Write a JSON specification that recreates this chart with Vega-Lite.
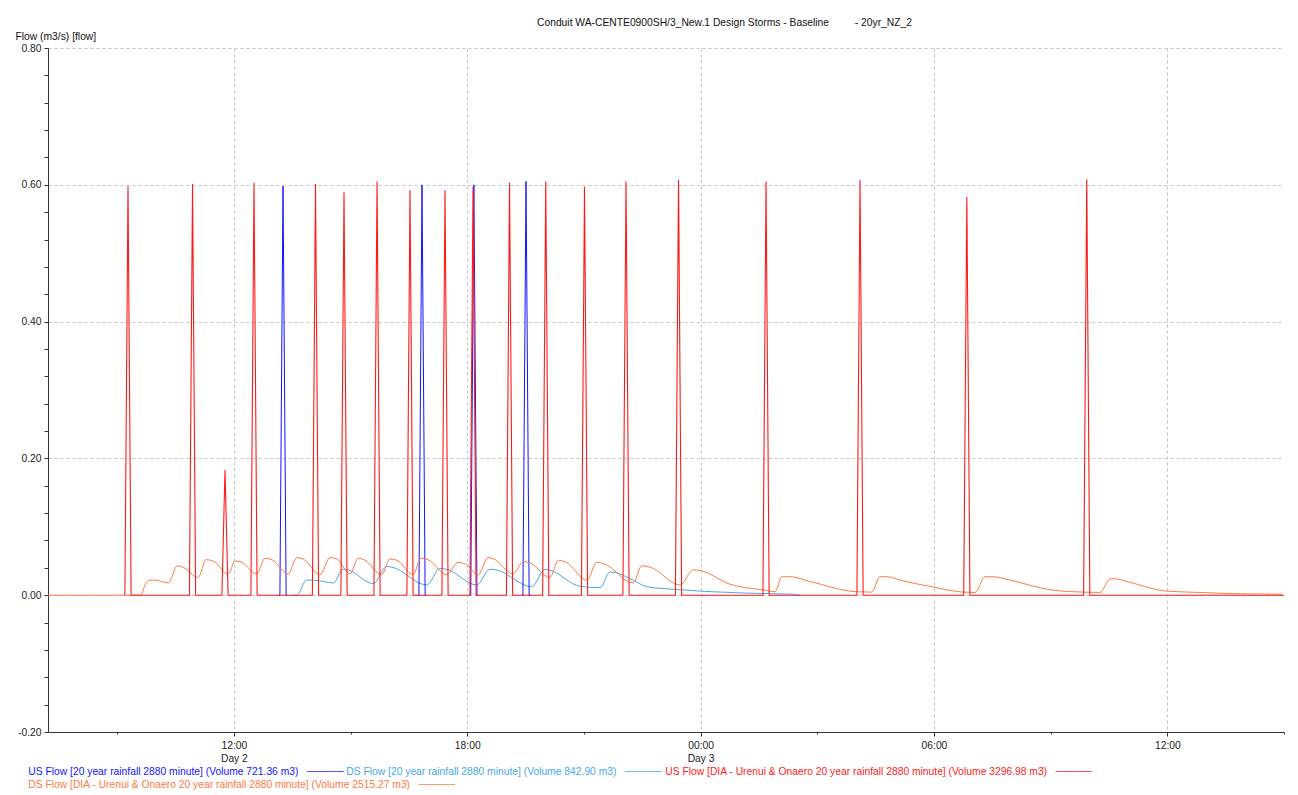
{
  "$schema": "https://vega.github.io/schema/vega-lite/v6.json",
  "autosize": {"type": "none"},
  "padding": {"left": 48, "top": 48, "right": 14, "bottom": 63},
  "width": 1236,
  "height": 684,
  "background": "white",
  "config": {
    "view": {"stroke": null},
    "legend": {
      "title": null, "orient": "none", "direction": "horizontal",
      "symbolSize": 0, "symbolStrokeWidth": 0, "symbolOpacity": 0, "labelOffset": 0,
      "labelFont": "Liberation Sans", "labelFontSize": 10.3, "labelLimit": 2000
    }
  },
  "title": {
    "text": "Conduit WA-CENTE0900SH/3_New.1 Design Storms - Baseline\u00a0\u00a0\u00a0\u00a0\u00a0\u00a0\u00a0\u00a0 - 20yr_NZ_2",
    "anchor": "start", "frame": "group", "dx": 489, "offset": 22, "dy": 27,
    "font": "Liberation Sans", "fontSize": 10.3, "fontWeight": "normal", "color": "#111", "baseline": "alphabetic"
  },
  "data": {"values": [
    {"s":"USDIA","k":0,"t":9.197,"v":0},{"s":"USDIA","k":0,"t":9.277,"v":0.598},{"s":"USDIA","k":0,"t":9.357,"v":0},
    {"s":"USDIA","k":0,"t":10.856,"v":0},{"s":"USDIA","k":0,"t":10.936,"v":0.601},{"s":"USDIA","k":0,"t":11.016,"v":0},
    {"s":"USDIA","k":0,"t":11.691,"v":0},{"s":"USDIA","k":0,"t":11.771,"v":0.183},{"s":"USDIA","k":0,"t":11.851,"v":0},
    {"s":"USDIA","k":0,"t":12.437,"v":0},{"s":"USDIA","k":0,"t":12.517,"v":0.603},{"s":"USDIA","k":0,"t":12.597,"v":0},
    {"s":"USDIA","k":0,"t":14.018,"v":0},{"s":"USDIA","k":0,"t":14.098,"v":0.601},{"s":"USDIA","k":0,"t":14.178,"v":0},
    {"s":"USDIA","k":0,"t":14.751,"v":0},{"s":"USDIA","k":0,"t":14.831,"v":0.589},{"s":"USDIA","k":0,"t":14.911,"v":0},
    {"s":"USDIA","k":0,"t":15.600,"v":0},{"s":"USDIA","k":0,"t":15.680,"v":0.605},{"s":"USDIA","k":0,"t":15.760,"v":0},
    {"s":"USDIA","k":0,"t":16.448,"v":0},{"s":"USDIA","k":0,"t":16.528,"v":0.592},{"s":"USDIA","k":0,"t":16.608,"v":0},
    {"s":"USDIA","k":0,"t":17.348,"v":0},{"s":"USDIA","k":0,"t":17.428,"v":0.592},{"s":"USDIA","k":0,"t":17.508,"v":0},
    {"s":"USDIA","k":0,"t":18.068,"v":0},{"s":"USDIA","k":0,"t":18.148,"v":0.597},{"s":"USDIA","k":0,"t":18.228,"v":0},
    {"s":"USDIA","k":0,"t":19.007,"v":0},{"s":"USDIA","k":0,"t":19.087,"v":0.603},{"s":"USDIA","k":0,"t":19.167,"v":0},
    {"s":"USDIA","k":0,"t":19.938,"v":0},{"s":"USDIA","k":0,"t":20.018,"v":0.605},{"s":"USDIA","k":0,"t":20.098,"v":0},
    {"s":"USDIA","k":0,"t":20.935,"v":0},{"s":"USDIA","k":0,"t":21.015,"v":0.597},{"s":"USDIA","k":0,"t":21.095,"v":0},
    {"s":"USDIA","k":0,"t":22.002,"v":0},{"s":"USDIA","k":0,"t":22.082,"v":0.605},{"s":"USDIA","k":0,"t":22.162,"v":0},
    {"s":"USDIA","k":0,"t":23.352,"v":0},{"s":"USDIA","k":0,"t":23.432,"v":0.607},{"s":"USDIA","k":0,"t":23.512,"v":0},
    {"s":"USDIA","k":0,"t":25.602,"v":0},{"s":"USDIA","k":0,"t":25.682,"v":0.605},{"s":"USDIA","k":0,"t":25.762,"v":0},
    {"s":"USDIA","k":0,"t":28.019,"v":0},{"s":"USDIA","k":0,"t":28.099,"v":0.607},{"s":"USDIA","k":0,"t":28.179,"v":0},
    {"s":"USDIA","k":0,"t":30.765,"v":0},{"s":"USDIA","k":0,"t":30.845,"v":0.582},{"s":"USDIA","k":0,"t":30.925,"v":0},
    {"s":"USDIA","k":0,"t":33.848,"v":0},{"s":"USDIA","k":0,"t":33.928,"v":0.608},{"s":"USDIA","k":0,"t":34.008,"v":0},
    {"s":"USDIA","k":0,"t":39.0,"v":0},

    {"s":"US20","k":1,"t":13.15,"v":0},{"s":"US20","k":1,"t":13.183,"v":0},{"s":"US20","k":1,"t":13.263,"v":0.598},{"s":"US20","k":1,"t":13.343,"v":0},{"s":"US20","k":1,"t":13.38,"v":0},
    {"s":"US20","k":2,"t":16.72,"v":0},{"s":"US20","k":2,"t":16.757,"v":0},{"s":"US20","k":2,"t":16.837,"v":0.600},{"s":"US20","k":2,"t":16.917,"v":0},{"s":"US20","k":2,"t":16.95,"v":0},
    {"s":"US20","k":3,"t":18.05,"v":0},{"s":"US20","k":3,"t":18.09,"v":0},{"s":"US20","k":3,"t":18.17,"v":0.600},{"s":"US20","k":3,"t":18.25,"v":0},{"s":"US20","k":3,"t":18.29,"v":0},
    {"s":"US20","k":4,"t":19.40,"v":0},{"s":"US20","k":4,"t":19.431,"v":0},{"s":"US20","k":4,"t":19.511,"v":0.605},{"s":"US20","k":4,"t":19.591,"v":0},{"s":"US20","k":4,"t":19.63,"v":0},

    {"s":"DS20","k":0,"t":13.5,"v":0},{"s":"DS20","k":0,"t":13.615,"v":0},{"s":"DS20","k":0,"t":13.872,"v":0.022},{"s":"DS20","k":0,"t":14.034,"v":0.022},
    {"s":"DS20","k":0,"t":14.556,"v":0.018},{"s":"DS20","k":0,"t":14.805,"v":0.038},{"s":"DS20","k":0,"t":14.934,"v":0.037},
    {"s":"DS20","k":0,"t":15.585,"v":0.017},{"s":"DS20","k":0,"t":15.929,"v":0.042},{"s":"DS20","k":0,"t":16.065,"v":0.041},
    {"s":"DS20","k":0,"t":16.958,"v":0.015},{"s":"DS20","k":0,"t":17.300,"v":0.039},{"s":"DS20","k":0,"t":17.454,"v":0.038},
    {"s":"DS20","k":0,"t":18.243,"v":0.015},{"s":"DS20","k":0,"t":18.585,"v":0.038},{"s":"DS20","k":0,"t":18.740,"v":0.037},
    {"s":"DS20","k":0,"t":19.658,"v":0.0125},{"s":"DS20","k":0,"t":20.000,"v":0.038},{"s":"DS20","k":0,"t":20.154,"v":0.036},
    {"s":"DS20","k":0,"t":20.900,"v":0.013},{"s":"DS20","k":0,"t":21.414,"v":0.011},{"s":"DS20","k":0,"t":21.671,"v":0.034},
    {"s":"DS20","k":0,"t":21.825,"v":0.033},{"s":"DS20","k":0,"t":22.262,"v":0.022},{"s":"DS20","k":0,"t":22.615,"v":0.0125},
    {"s":"DS20","k":0,"t":23.471,"v":0.008},{"s":"DS20","k":0,"t":24.320,"v":0.005},{"s":"DS20","k":0,"t":25.186,"v":0.003},
    {"s":"DS20","k":0,"t":26.377,"v":0.0015},{"s":"DS20","k":0,"t":26.557,"v":0},

    {"s":"DSDIA","k":0,"t":7.22,"v":0},{"s":"DSDIA","k":0,"t":9.611,"v":0},{"s":"DSDIA","k":0,"t":9.714,"v":0.015},{"s":"DSDIA","k":0,"t":9.843,"v":0.022},
    {"s":"DSDIA","k":0,"t":9.971,"v":0.022},{"s":"DSDIA","k":0,"t":10.313,"v":0.018},{"s":"DSDIA","k":0,"t":10.545,"v":0.043},{"s":"DSDIA","k":0,"t":10.691,"v":0.041},
    {"s":"DSDIA","k":0,"t":11.085,"v":0.026},{"s":"DSDIA","k":0,"t":11.283,"v":0.052},{"s":"DSDIA","k":0,"t":11.463,"v":0.050},
    {"s":"DSDIA","k":0,"t":11.856,"v":0.031},{"s":"DSDIA","k":0,"t":12.028,"v":0.050},{"s":"DSDIA","k":0,"t":12.208,"v":0.048},
    {"s":"DSDIA","k":0,"t":12.586,"v":0.031},{"s":"DSDIA","k":0,"t":12.800,"v":0.054},{"s":"DSDIA","k":0,"t":12.980,"v":0.052},
    {"s":"DSDIA","k":0,"t":13.399,"v":0.031},{"s":"DSDIA","k":0,"t":13.615,"v":0.055},{"s":"DSDIA","k":0,"t":13.777,"v":0.053},
    {"s":"DSDIA","k":0,"t":14.214,"v":0.030},{"s":"DSDIA","k":0,"t":14.471,"v":0.055},{"s":"DSDIA","k":0,"t":14.651,"v":0.053},
    {"s":"DSDIA","k":0,"t":14.985,"v":0.031},{"s":"DSDIA","k":0,"t":15.199,"v":0.054},{"s":"DSDIA","k":0,"t":15.345,"v":0.052},
    {"s":"DSDIA","k":0,"t":15.801,"v":0.030},{"s":"DSDIA","k":0,"t":16.014,"v":0.053},{"s":"DSDIA","k":0,"t":16.194,"v":0.051},
    {"s":"DSDIA","k":0,"t":16.606,"v":0.030},{"s":"DSDIA","k":0,"t":16.811,"v":0.054},{"s":"DSDIA","k":0,"t":16.991,"v":0.052},
    {"s":"DSDIA","k":0,"t":17.472,"v":0.030},{"s":"DSDIA","k":0,"t":17.763,"v":0.048},{"s":"DSDIA","k":0,"t":17.943,"v":0.046},
    {"s":"DSDIA","k":0,"t":18.285,"v":0.030},{"s":"DSDIA","k":0,"t":18.534,"v":0.055},{"s":"DSDIA","k":0,"t":18.688,"v":0.053},
    {"s":"DSDIA","k":0,"t":19.177,"v":0.031},{"s":"DSDIA","k":0,"t":19.442,"v":0.049},{"s":"DSDIA","k":0,"t":19.614,"v":0.047},
    {"s":"DSDIA","k":0,"t":20.128,"v":0.026},{"s":"DSDIA","k":0,"t":20.342,"v":0.051},{"s":"DSDIA","k":0,"t":20.514,"v":0.049},
    {"s":"DSDIA","k":0,"t":21.080,"v":0.022},{"s":"DSDIA","k":0,"t":21.329,"v":0.048},{"s":"DSDIA","k":0,"t":21.517,"v":0.046},
    {"s":"DSDIA","k":0,"t":22.270,"v":0.018},{"s":"DSDIA","k":0,"t":22.486,"v":0.043},{"s":"DSDIA","k":0,"t":22.700,"v":0.041},
    {"s":"DSDIA","k":0,"t":23.471,"v":0.015},{"s":"DSDIA","k":0,"t":23.813,"v":0.037},{"s":"DSDIA","k":0,"t":23.985,"v":0.036},
    {"s":"DSDIA","k":0,"t":24.757,"v":0.016},{"s":"DSDIA","k":0,"t":25.613,"v":0.0076},{"s":"DSDIA","k":0,"t":25.914,"v":0.005},
    {"s":"DSDIA","k":0,"t":26.086,"v":0.027},{"s":"DSDIA","k":0,"t":26.300,"v":0.027},{"s":"DSDIA","k":0,"t":26.814,"v":0.020},
    {"s":"DSDIA","k":0,"t":28.014,"v":0.005},{"s":"DSDIA","k":0,"t":28.400,"v":0.0045},{"s":"DSDIA","k":0,"t":28.614,"v":0.027},
    {"s":"DSDIA","k":0,"t":28.794,"v":0.027},{"s":"DSDIA","k":0,"t":29.128,"v":0.022},{"s":"DSDIA","k":0,"t":29.976,"v":0.012},
    {"s":"DSDIA","k":0,"t":30.748,"v":0.0045},{"s":"DSDIA","k":0,"t":31.056,"v":0.004},{"s":"DSDIA","k":0,"t":31.314,"v":0.027},
    {"s":"DSDIA","k":0,"t":31.519,"v":0.027},{"s":"DSDIA","k":0,"t":31.956,"v":0.022},{"s":"DSDIA","k":0,"t":32.985,"v":0.008},
    {"s":"DSDIA","k":0,"t":33.834,"v":0.0045},{"s":"DSDIA","k":0,"t":34.271,"v":0.004},{"s":"DSDIA","k":0,"t":34.528,"v":0.024},
    {"s":"DSDIA","k":0,"t":34.657,"v":0.024},{"s":"DSDIA","k":0,"t":34.958,"v":0.020},{"s":"DSDIA","k":0,"t":35.986,"v":0.006},
    {"s":"DSDIA","k":0,"t":36.842,"v":0.004},{"s":"DSDIA","k":0,"t":37.529,"v":0.0025},{"s":"DSDIA","k":0,"t":38.943,"v":0.0015}
  ]},
  "encoding": {
    "x": {
      "field": "t", "type": "quantitative",
      "scale": {"domain": [7.22, 39], "nice": false, "zero": false},
      "axis": {
        "title": null,
        "values": [9, 12, 15, 18, 21, 24, 27, 30, 33, 36, 39],
        "labelExpr": "datum.value == 12 ? ['12:00', 'Day 2'] : datum.value == 18 ? '18:00' : datum.value == 24 ? ['00:00', 'Day 3'] : datum.value == 30 ? '06:00' : datum.value == 36 ? '12:00' : ''",
        "grid": true, "gridColor": "#c4c4c4", "gridDash": [3, 3], "gridWidth": 1,
        "gridOpacity": {"condition": {"test": "datum.value % 6 == 0", "value": 1}, "value": 0},
        "tickSize": {"condition": {"test": "datum.value % 6 == 0", "value": 4}, "value": 2},
        "tickColor": "#333", "domainColor": "#333",
        "labelFont": "Liberation Sans", "labelFontSize": 10.3, "labelColor": "#222",
        "labelPadding": 4, "labelLineHeight": 13, "labelFlush": false, "labelOverlap": false, "labelBound": false
      }
    },
    "y": {
      "field": "v", "type": "quantitative",
      "scale": {"domain": [-0.2, 0.8], "nice": false, "zero": false},
      "axis": {
        "title": "Flow (m3/s) [flow]",
        "titleAngle": 0, "titleAlign": "left", "titleBaseline": "middle", "titleX": -33, "titleY": -12,
        "titleFont": "Liberation Sans", "titleFontSize": 10.3, "titleFontWeight": "normal", "titleColor": "#111",
        "values": [-0.2, -0.16, -0.12, -0.08, -0.04, 0, 0.04, 0.08, 0.12, 0.16, 0.2, 0.24, 0.28, 0.32, 0.36, 0.4, 0.44, 0.48, 0.52, 0.56, 0.6, 0.64, 0.68, 0.72, 0.76, 0.8],
        "labelExpr": "abs(datum.value * 5 - round(datum.value * 5)) < 0.001 ? replace(format(datum.value, '.2f'), '\u2212', '-') : ''",
        "grid": true, "gridColor": "#c4c4c4", "gridDash": [3, 3], "gridWidth": 1,
        "gridOpacity": {"condition": {"test": "abs(datum.value * 5 - round(datum.value * 5)) < 0.001 && datum.value > -0.1", "value": 1}, "value": 0},
        "tickSize": 4, "tickColor": "#333", "domainColor": "#333",
        "labelFont": "Liberation Sans", "labelFontSize": 10.3, "labelColor": "#222",
        "labelPadding": 3, "labelOverlap": false
      }
    },
    "detail": {"field": "k", "type": "nominal"}
  },
  "layer": [
    {
      "transform": [{"filter": "datum.s == 'DS20'"}],
      "mark": {"type": "line", "strokeWidth": 1, "interpolate": "monotone"},
      "encoding": {"color": {"field": "s", "type": "nominal",
        "scale": {"domain": ["DS20"], "range": ["#48a8e8"]},
        "legend": {"legendX": 288, "legendY": 719,
          "labelExpr": "'DS Flow [20 year rainfall 2880 minute] (Volume 842.90 m3)\u00a0\u00a0\u00a0\u2500\u2500\u2500\u2500\u2500'",
          "encode": {"labels": {"update": {"fill": {"value": "#48a8e8"}}}}}}}
    },
    {
      "transform": [{"filter": "datum.s == 'US20'"}],
      "mark": {"type": "line", "strokeWidth": 1},
      "encoding": {"color": {"field": "s", "type": "nominal",
        "scale": {"domain": ["US20"], "range": ["#1414ff"]},
        "legend": {"legendX": -30, "legendY": 719,
          "labelExpr": "'US Flow [20 year rainfall 2880 minute] (Volume 721.36 m3)\u00a0\u00a0\u00a0\u2500\u2500\u2500\u2500\u2500'",
          "encode": {"labels": {"update": {"fill": {"value": "#1414ff"}}}}}}}
    },
    {
      "transform": [{"filter": "datum.s == 'DSDIA'"}],
      "mark": {"type": "line", "strokeWidth": 1, "interpolate": "monotone"},
      "encoding": {"color": {"field": "s", "type": "nominal",
        "scale": {"domain": ["DSDIA"], "range": ["#ff7a45"]},
        "legend": {"legendX": -30, "legendY": 732,
          "labelExpr": "'DS Flow [DIA - Urenui & Onaero 20 year rainfall 2880 minute] (Volume 2515.27 m3)\u00a0\u00a0\u00a0\u2500\u2500\u2500\u2500\u2500'",
          "encode": {"labels": {"update": {"fill": {"value": "#ff7a45"}}}}}}}
    },
    {
      "transform": [{"filter": "datum.s == 'USDIA'"}],
      "mark": {"type": "line", "strokeWidth": 1.1},
      "encoding": {"color": {"field": "s", "type": "nominal",
        "scale": {"domain": ["USDIA"], "range": ["#ff1a1a"]},
        "legend": {"legendX": 607, "legendY": 719,
          "labelExpr": "'US Flow [DIA - Urenui & Onaero 20 year rainfall 2880 minute] (Volume 3296.98 m3)\u00a0\u00a0\u00a0\u2500\u2500\u2500\u2500\u2500'",
          "encode": {"labels": {"update": {"fill": {"value": "#ff1a1a"}}}}}}}
    }
  ],
  "resolve": {"scale": {"color": "independent"}, "legend": {"color": "independent"}}
}
